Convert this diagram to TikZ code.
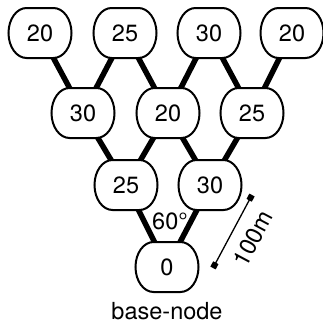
\documentclass[tikz,border=0pt]{standalone}
\usepackage{fontspec}
\setmainfont{TeX Gyre Heros}
\usetikzlibrary{arrows.meta, backgrounds}

\newcommand*{\halfw}{31.5}
\newcommand*{\halfh}{25}
\newcommand*{\bend}{18}

\tikzset{
    cell/.style={minimum width=63pt, minimum height=50pt, inner sep=0pt,
        font=\fontsize{23.5}{28}\selectfont},
    rim/.style={draw, line width=2pt, fill=white},
    link/.style={line width=5.5pt},
    label text/.style={font=\fontsize{23.5}{28}\selectfont}
}

\begin{document}
\begin{tikzpicture}[x=1pt, y=-1pt]
    \useasboundingbox (0,0) rectangle (323,324);
    % nodes, row by row
    \node[cell] (t1) at (40,33) {20};
    \node[cell] (t2) at (125,33) {25};
    \node[cell] (t3) at (209,33) {30};
    \node[cell] (t4) at (292,33) {20};
    \node[cell] (m1) at (83,113) {30};
    \node[cell] (m2) at (168,113) {20};
    \node[cell] (m3) at (252,113) {25};
    \node[cell] (l1) at (126,185) {25};
    \node[cell] (l2) at (210,185) {30};
    \node[cell] (base) at (167,267) {0};
    \node[label text] (basename) at (167,311) {base-node};
    \node[label text] (angle) at (170,221) {60°};
    % links and rims behind the numbers
    \begin{scope}[on background layer]
    \foreach \a/\b in {t1/m1, t2/m1, t2/m2, t3/m2, t3/m3, t4/m3,
                       m1/l1, m2/l1, m2/l2, m3/l2, l1/base, l2/base}
        \draw[link] (\a.center) -- (\b.center);
    \foreach \n in {t1, t2, t3, t4, m1, m2, m3, l1, l2, base}
        \draw[rim, shift={(\n.center)}] (-\halfw+\bend,-\halfh) -- (\halfw-\bend,-\halfh)
            arc[start angle=-90, end angle=90, x radius=\bend, y radius=\halfh]
            -- (-\halfw+\bend,\halfh)
            arc[start angle=90, end angle=270, x radius=\bend, y radius=\halfh] -- cycle;
    \end{scope}
    % length mark
    \coordinate (dimA) at (213,268);
    \coordinate (dimB) at (252,195);
    \draw[line width=1.3pt, {Square[length=6pt,width=6pt]}-{Square[length=6pt,width=6pt]}] (dimA) -- (dimB)
        node[pos=0.54, sloped, below=9pt, label text] {100m};
\end{tikzpicture}
\end{document}
